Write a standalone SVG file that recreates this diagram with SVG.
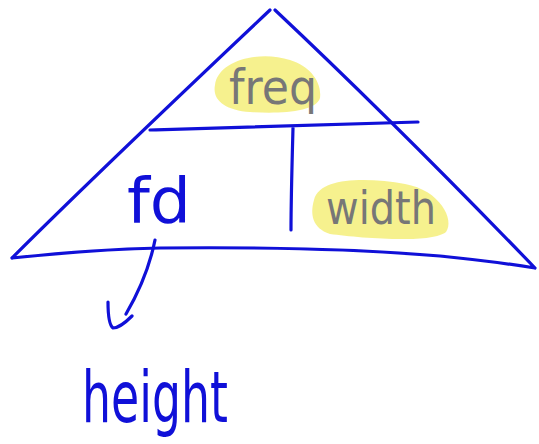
<svg xmlns="http://www.w3.org/2000/svg" width="539" height="444" viewBox="0 0 539 444">
<style>
.ink{fill:none;stroke:#1010d8;stroke-width:3.2;stroke-linecap:round;stroke-linejoin:round}
.hl{fill:#f4ee7a;opacity:0.85}
.gray{font-family:"DejaVu Sans",sans-serif;fill:#777}
.blue{font-family:"DejaVu Sans",sans-serif;fill:#1010d8}
</style>
<rect width="539" height="444" fill="#fff"/>
<g id="triangle">
<path class="ink" d="M12,258 C90,180 180,95 270,10 M275,10 C360,90 450,180 535,268 M12,258 C60,253 110,249 160,248 C260,247 360,249 440,256 C480,260 510,264 535,268"/>
</g>
<g id="divider">
<path class="ink" d="M150,130 C240,128 330,124 418,122 M293,128 C292,165 291,200 291,230"/>
</g>
<g id="freq">
<path class="hl" d="M215,85 C218,60 260,50 290,60 C310,66 322,82 320,98 C316,112 280,114 250,112 C225,110 212,100 215,85 Z"/>
<text class="gray" x="229" y="104" font-size="48" textLength="88" lengthAdjust="spacingAndGlyphs">freq</text>
</g>
<g id="width">
<path class="hl" d="M314,200 C320,176 370,178 405,184 C440,190 455,220 446,232 C432,244 360,238 330,234 C312,228 310,214 314,200 Z"/>
<text class="gray" x="326" y="224" font-size="46" textLength="110" lengthAdjust="spacingAndGlyphs">width</text>
</g>
<g id="fd">
<text class="blue" x="127" y="222" font-size="62" textLength="64" lengthAdjust="spacingAndGlyphs">fd</text>
</g>
<g id="connectors">
<path class="ink" d="M155,240 C150,265 140,290 126,314 M108,302 C108,316 109,325 113,328 C119,328 126,322 132,316"/>
</g>
<g id="height">
<text class="blue" x="82" y="422" font-size="72" textLength="146" lengthAdjust="spacingAndGlyphs">height</text>
</g>
</svg>
